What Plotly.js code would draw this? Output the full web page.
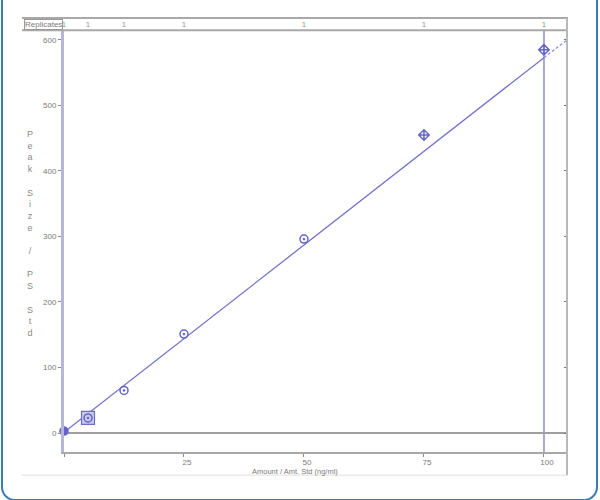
<!DOCTYPE html>
<html>
<head>
<meta charset="utf-8">
<script src="https://cdn.plot.ly/plotly-3.0.1.min.js"></script>
<style>
  body { margin: 0; background: white; }
  #wrap { position: relative; width: 600px; height: 500px; overflow: hidden; }
  #chart { width: 600px; height: 500px; }
  #frame {
    position: absolute; left: 1px; top: -20px; width: 593px; height: 517px;
    border: 2px solid #3b7bb5; border-radius: 14px; pointer-events: none;
  }
</style>
</head>
<body>
<div id="wrap">
  <div id="chart"></div>
  <div id="frame"></div>
</div>
<script>
// Calibration levels (ng/ml) and measured response ratio
const amounts = [0, 5, 12.5, 25, 50, 75, 100];
const responses = [3, 23, 65, 151, 296, 455, 585];
const replicates = ['1', '1', '1', '1', '1', '1', '1'];

// Fitted line (solid part, then dashed extrapolation)
const fitX = [0, 100];
const fitY = [1, 573];
const extX = [100, 104.8];
const extY = [573, 600];

const xTicks = [0, 25, 50, 75, 100];
const xTickText = ['', '25', '50', '75', '100'];
const yTicks = [0, 100, 200, 300, 400, 500, 600];
const yTickText = ['0', '100', '200', '300', '400', '500', '600'];

const blue = '#6464c8';
const fontFam = 'Liberation Sans, Arial, sans-serif';
const tickFont = { family: fontFam, size: 8, color: '#7a7a7a' };

const symbols = amounts.map((a, i) =>
  i >= amounts.length - 2 ? 'diamond-cross-open' : (i === 0 ? 'circle-cross' : 'circle-open-dot'));

const traces = [
  {
    x: fitX, y: fitY, mode: 'lines', type: 'scatter',
    line: { color: '#7272c8', width: 1.3 }, hoverinfo: 'skip'
  },
  {
    x: extX, y: extY, mode: 'lines', type: 'scatter',
    line: { color: '#8a8ad0', width: 1.2, dash: '3px,2px' }, hoverinfo: 'skip'
  },
  {
    // highlighted level
    x: [amounts[1]], y: [responses[1]], mode: 'markers', type: 'scatter',
    marker: { symbol: 'square', size: 13, color: '#c9c9ec', line: { color: '#6e6ec4', width: 1.2 } },
    hoverinfo: 'skip'
  },
  {
    x: amounts, y: responses, mode: 'markers', type: 'scatter',
    cliponaxis: false,
    marker: {
      symbol: symbols, size: 8, color: blue,
      line: { color: blue, width: 1.5 }
    },
    hovertemplate: '%{x} ng/ml<br>%{y}<extra></extra>'
  }
];

const top0 = 1.0, stripTop = 1.031;

const annotations = [
  {
    text: 'P<br>e<br>a<br>k<br> <br>S<br>i<br>z<br>e<br> <br>/<br> <br>P<br>S<br> <br>S<br>t<br>d',
    xref: 'paper', yref: 'paper', x: -0.068, y: 0.52, showarrow: false,
    font: { family: fontFam, size: 9, color: '#8a8a8a' },
    xanchor: 'center', yanchor: 'middle'
  },
  {
    text: 'Amount / Amt. Std (ng/ml)', xref: 'paper', yref: 'paper',
    x: 0.459, y: -0.047, showarrow: false, yanchor: 'middle',
    font: { family: fontFam, size: 7.5, color: '#7a7a7a' }
  },
  {
    text: 'Replicates', xref: 'paper', yref: 'paper', x: -0.079, y: 1.0155,
    xanchor: 'left', yanchor: 'middle', showarrow: false,
    bordercolor: '#9a9a9a', borderwidth: 1, borderpad: 0,
    font: { family: fontFam, size: 8, color: '#7a7a7a' }
  }
].concat(amounts.map((a, i) => ({
  text: replicates[i], xref: 'x', yref: 'paper', x: a, y: 1.0155,
  showarrow: false, yanchor: 'middle',
  font: { family: fontFam, size: 7, color: '#8a8a8a' }
})));

const shapes = [
  // replicates strip borders
  { type: 'line', xref: 'paper', yref: 'paper', x0: -0.0835, x1: 1.002, y0: stripTop, y1: stripTop,
    line: { color: '#a8a8a8', width: 2 } },
  { type: 'line', xref: 'paper', yref: 'paper', x0: -0.0835, x1: 1.002, y0: top0 + 0.002, y1: top0 + 0.002,
    line: { color: '#a8a8a8', width: 2 } },
  // right border line
  { type: 'line', xref: 'paper', yref: 'paper', x0: 1.0, x1: 1.0, y0: -0.055, y1: stripTop,
    line: { color: '#b8b8b8', width: 2 } },
  // bottom faint line
  { type: 'line', xref: 'paper', yref: 'paper', x0: -0.0835, x1: 1.0, y0: -0.055, y1: -0.055,
    line: { color: '#e0e0e0', width: 1 } },
  // cursor at highest level
  { type: 'line', xref: 'x', yref: 'paper', x0: amounts[amounts.length - 1], x1: amounts[amounts.length - 1],
    y0: 0, y1: 1, line: { color: '#a9a9d6', width: 2 }, layer: 'below' }
];

const layout = {
  width: 600, height: 500,
  margin: { l: 64, r: 33, t: 31, b: 48 },
  paper_bgcolor: 'white', plot_bgcolor: 'white',
  showlegend: false,
  xaxis: {
    range: [0, 104.8], tickvals: xTicks, ticktext: xTickText,
    showgrid: false, zeroline: false,
    showline: true, linecolor: '#a8a8a8', linewidth: 2,
    ticks: 'outside', ticklen: 3, tickcolor: '#8a8a8a', tickwidth: 1,
    ticklabelshift: 3, ticklabelstandoff: -2,
    tickfont: tickFont
  },
  yaxis: {
    range: [-29, 613.7], tickvals: yTicks, ticktext: yTickText,
    showgrid: false,
    zeroline: true, zerolinecolor: '#9e9e9e', zerolinewidth: 2,
    showline: true, linecolor: '#b6b6da', linewidth: 3,
    ticks: 'outside', ticklen: 3, tickcolor: '#8a8a8a',
    tickfont: tickFont
  },
  yaxis2: {
    overlaying: 'y', side: 'right', range: [-29, 613.7], tickvals: yTicks,
    showticklabels: false, showgrid: false, zeroline: false, showline: false,
    ticks: 'inside', ticklen: 3, tickcolor: '#777'
  },
  annotations: annotations,
  shapes: shapes
};

// dummy trace to anchor the right axis
traces.push({ x: [null], y: [null], yaxis: 'y2', type: 'scatter', mode: 'markers', hoverinfo: 'skip' });

Plotly.newPlot('chart', traces, layout, { displayModeBar: false });
</script>
</body>
</html>
